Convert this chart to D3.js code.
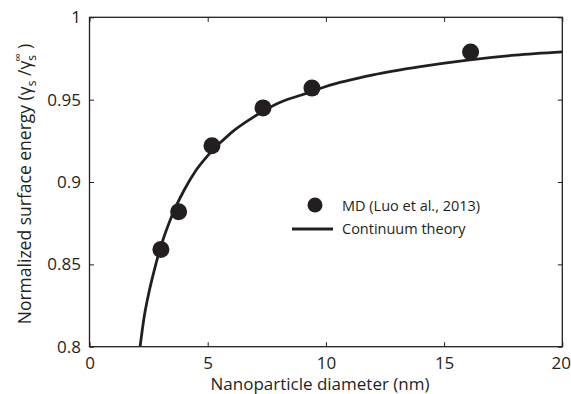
<!DOCTYPE html>
<html>
<head>
<meta charset="utf-8">
<script src="https://cdn.jsdelivr.net/npm/d3@7"></script>
<style>
  body { margin: 0; background: #fff; }
  text { font-family: "Open Sans", "Noto Sans", sans-serif; fill: #231f20; }
</style>
</head>
<body>
<div id="chart"></div>
<script>
// MD data (Luo et al., 2013)
const mdDiameter = [3.02, 3.77, 5.18, 7.34, 9.41, 16.12];
const mdEnergy = [0.859, 0.882, 0.922, 0.945, 0.957, 0.979];

// continuum theory curve
const theoryDiameter = [2.14, 2.3, 2.5, 2.75, 3.0, 3.5, 4.0, 4.5, 5.0, 6.0, 7.0, 8.0, 9.0, 10.0, 12.0, 14.0, 16.0, 18.0, 20.0];
const theoryEnergy = [0.800, 0.817, 0.832, 0.847, 0.860, 0.880, 0.895, 0.907, 0.916, 0.930, 0.940, 0.948, 0.953, 0.958, 0.965, 0.970, 0.974, 0.977, 0.979];

const xTicks = [0, 5, 10, 15, 20];
const yTicks = [0.8, 0.85, 0.9, 0.95, 1];

const ink = '#231f20';
const width = 571;
const height = 394;
const margin = { top: 17.3, right: 8.7, bottom: 47.3, left: 89.5 };
const innerW = width - margin.left - margin.right;
const innerH = height - margin.top - margin.bottom;

const svg = d3.select('#chart').append('svg').attr('width', width).attr('height', height);
const g = svg.append('g').attr('transform', `translate(${margin.left},${margin.top})`);

const x = d3.scaleLinear().domain([0, 20]).range([0, innerW]);
const y = d3.scaleLinear().domain([0.8, 1]).range([innerH, 0]);

// clip the curve to the box
g.append('clipPath').attr('id', 'clip').append('rect').attr('width', innerW).attr('height', innerH);

const line = d3
  .line()
  .x((d) => x(d[0]))
  .y((d) => y(d[1]))
  .curve(d3.curveMonotoneX);

g.append('path')
  .datum(d3.zip(theoryDiameter, theoryEnergy))
  .attr('clip-path', 'url(#clip)')
  .attr('d', line)
  .attr('fill', 'none')
  .attr('stroke', ink)
  .attr('stroke-width', 2.8);

g.selectAll('circle.md')
  .data(d3.zip(mdDiameter, mdEnergy))
  .enter()
  .append('circle')
  .attr('class', 'md')
  .attr('cx', (d) => x(d[0]))
  .attr('cy', (d) => y(d[1]))
  .attr('r', 8.5)
  .attr('fill', ink);

// axes, ticks pointing inward on all four sides
const tickLen = 4.5;
const styleAxis = (sel) => {
  sel.select('.domain').remove();
  sel.selectAll('.tick line').attr('stroke', ink).attr('stroke-width', 1);
  sel.selectAll('.tick text').attr('font-size', 17).attr('fill', ink).style('font-family', '"Open Sans", sans-serif');
};

const xAxis = g.append('g')
  .attr('transform', `translate(0,${innerH})`)
  .call(d3.axisBottom(x).tickValues(xTicks).tickSize(-tickLen).tickPadding(10).tickFormat(d3.format('d')))
  .call(styleAxis);
// last label sits right at the page edge; pull it in a little
xAxis.selectAll('.tick text').filter((d) => d === 20).attr('dx', -1.5);

g.append('g')
  .call(d3.axisTop(x).tickValues(xTicks).tickSize(-tickLen).tickFormat(''))
  .call(styleAxis);
g.append('g')
  .call(d3.axisLeft(y).tickValues(yTicks).tickSize(-tickLen).tickPadding(8.5).tickFormat((d) => (d === 1 ? '1' : String(d))))
  .call(styleAxis);
g.append('g')
  .attr('transform', `translate(${innerW},0)`)
  .call(d3.axisRight(y).tickValues(yTicks).tickSize(-tickLen).tickFormat(''))
  .call(styleAxis);

// frame
g.append('rect')
  .attr('width', innerW)
  .attr('height', innerH)
  .attr('fill', 'none')
  .attr('stroke', ink)
  .attr('stroke-width', 1.3);

// axis titles
svg.append('text')
  .attr('x', 320)
  .attr('y', 390)
  .attr('text-anchor', 'middle')
  .attr('font-size', 17)
  .text('Nanoparticle diameter (nm)');

const yTitle = svg.append('text')
  .attr('transform', `translate(31,184) rotate(-90)`)
  .attr('text-anchor', 'middle')
  .attr('font-size', 17.5);
yTitle.append('tspan').text('Normalized surface energy (γ');
yTitle.append('tspan').attr('font-size', 12).attr('dy', 5).text('s');
yTitle.append('tspan').attr('dy', -5).text(' /γ');
yTitle.append('tspan').attr('font-size', 12).attr('dy', 5).text('s');
yTitle.append('tspan').attr('font-size', 12).attr('dx', -7).attr('dy', -14).text('∞');
yTitle.append('tspan').attr('dy', 9).text(' )');

// legend
const legend = svg.append('g').attr('transform', 'translate(292,205)');
legend.append('circle').attr('cx', 23).attr('cy', 0).attr('r', 7.5).attr('fill', ink);
legend.append('text').attr('x', 50).attr('y', 6).attr('font-size', 14.5).text('MD (Luo et al., 2013)');
legend.append('line').attr('x1', 0).attr('x2', 41).attr('y1', 24).attr('y2', 24).attr('stroke', ink).attr('stroke-width', 2.8);
legend.append('text').attr('x', 50).attr('y', 29).attr('font-size', 14.5).text('Continuum theory');
</script>
</body>
</html>
